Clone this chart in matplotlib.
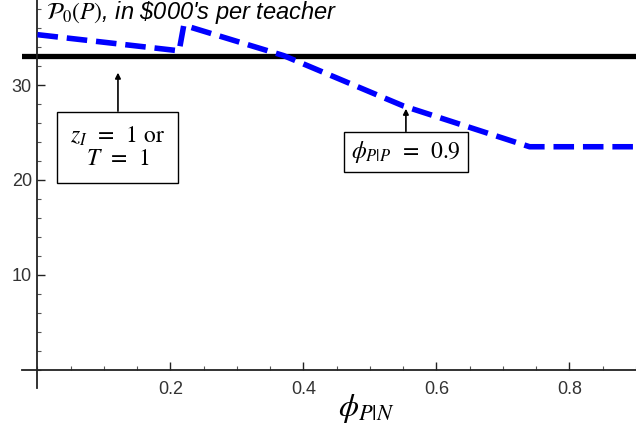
import numpy as np
import matplotlib.pyplot as plt
from matplotlib.ticker import MultipleLocator

# values
phi_pn = [0.0, 0.213, 0.22, 0.37, 0.55, 0.74, 0.9]
p0_dashed = [35.3, 33.6, 36.3, 33.1, 27.8, 23.5, 23.5]
p0_flat = 33.1
xticks = [0.2, 0.4, 0.6, 0.8]
yticks = [10, 20, 30]

plt.rcParams['mathtext.fontset'] = 'stix'

fig = plt.figure(figsize=(6.36, 4.23), dpi=100)
ax = fig.add_axes([22/636, 35/423, 614/636, 388/423])

ax.axhline(p0_flat, color='black', lw=3.8, zorder=2)
ax.plot(phi_pn, p0_dashed, color='#0000ff', lw=4.0, dashes=(3.7, 1.6), zorder=3)

ax.set_xlim(-0.0233, 0.9)
ax.set_ylim(-1.9, 38.95)
for s in ['top', 'right']:
    ax.spines[s].set_visible(False)
ax.spines['left'].set_position(('data', 0))
ax.spines['bottom'].set_position(('data', 0))
for s in ['left', 'bottom']:
    ax.spines[s].set_linewidth(1.3)
    ax.spines[s].set_color('#222222')

ax.set_xticks(xticks)
ax.set_yticks(yticks)
ax.xaxis.set_minor_locator(MultipleLocator(0.05))
ax.yaxis.set_minor_locator(MultipleLocator(2))
ax.tick_params(which='major', direction='in', length=6, width=1, labelsize=13,
               colors='#222222', labelcolor='#333333')
ax.tick_params(which='minor', direction='in', length=3, width=0.8, colors='#555555')
ax.tick_params(axis='x', pad=8)
ax.tick_params(axis='y', pad=4)
for lab in ax.get_xticklabels() + ax.get_yticklabels():
    lab.set_fontfamily('Liberation Sans')

fig.text(46/636, 1 - 13/423, r"$\mathcal{P}_0(P)$, in \$000's per teacher",
         fontsize=17, style='italic', family='Liberation Sans', va='center', ha='left')
fig.text(366/636, 1 - 408/423, r"$\phi_{P|N}$", fontsize=23, ha='center', va='center')

box = dict(boxstyle='square,pad=0.55', fc='white', ec='black', lw=1)
arrow = dict(arrowstyle='-|>', color='black', lw=1.2, mutation_scale=8, shrinkA=0, shrinkB=0)
ax.annotate("$z_I$  =  1 or\n$T$  =  1", xy=(0.121, 31.3), xytext=(0.121, 23.4),
            ha='center', va='center', fontsize=17, family='STIXGeneral',
            bbox=box, arrowprops=arrow, linespacing=1.05)
ax.annotate(r"$\phi_{P|P}$  =  0.9", xy=(0.554, 27.5), xytext=(0.554, 22.95),
            ha='center', va='center', fontsize=17, family='STIXGeneral',
            bbox=dict(boxstyle='square,pad=0.3', fc='white', ec='black', lw=1),
            arrowprops=arrow)

fig.savefig('out.png', dpi=100)
